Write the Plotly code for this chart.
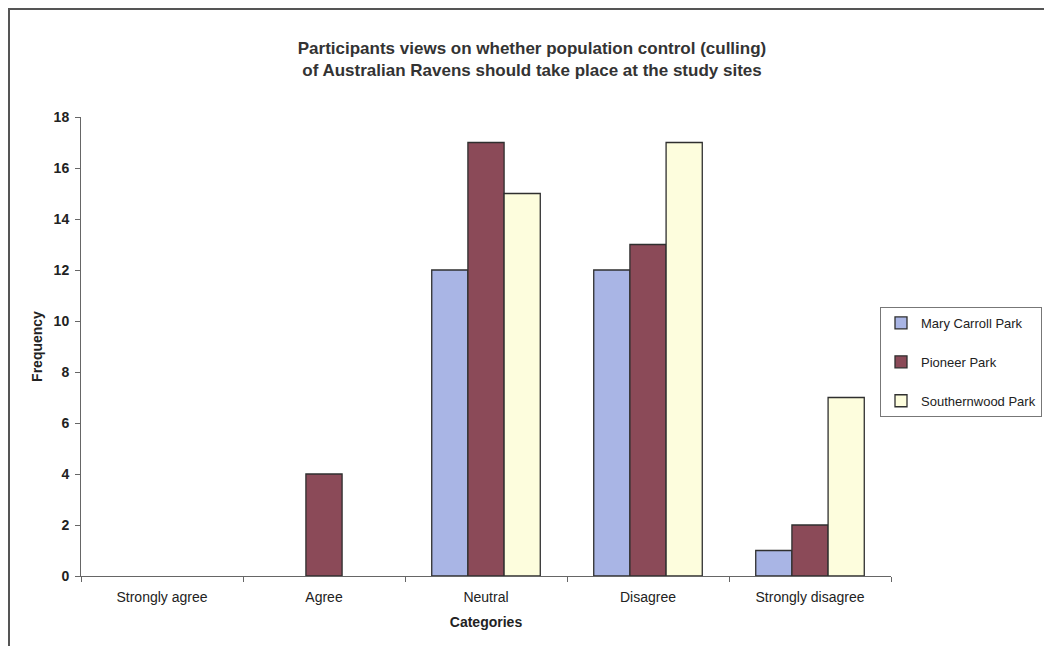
import plotly.graph_objects as go

categories = ["Strongly agree", "Agree", "Neutral", "Disagree", "Strongly disagree"]
mary_carroll = [0, 0, 12, 12, 1]
pioneer = [0, 4, 17, 13, 2]
southernwood = [0, 0, 15, 17, 7]
series_names = ["Mary Carroll Park", "Pioneer Park", "Southernwood Park"]
y_ticks = [0, 2, 4, 6, 8, 10, 12, 14, 16, 18]

colors = ["#a9b5e5", "#8b4a58", "#fdfddd"]
FONT = "Liberation Sans, Arial, sans-serif"

fig = go.Figure()
for name, vals, col in zip(series_names, [mary_carroll, pioneer, southernwood], colors):
    fig.add_trace(go.Bar(
        x=categories, y=[v if v else None for v in vals], name=name, legendgroup=name,
        marker=dict(color=col, line=dict(color="#2f2f2f", width=1.3)),
    ))

# page has an 8px body margin around the figure
OFF = 8
W, H = 1052 - OFF, 646 - OFF
L, T = 81 - OFF, 117 - OFF
pw, ph = 810, 459
R, B = W - L - pw, H - T - ph

def px_x(p):  # page pixel -> paper x
    return (p - 81) / pw

def px_y(p):  # page pixel -> paper y
    return (576 - p) / ph

fig.update_layout(
    width=W, height=H,
    margin=dict(l=L, r=R, t=T, b=B, autoexpand=False),
    paper_bgcolor="white", plot_bgcolor="white",
    font=dict(family=FONT, size=14, color="#222"),
    barmode="group", bargap=0.33, bargroupgap=0,
    title=dict(
        text="Participants views on whether population control (culling)<br>of Australian Ravens should take place at the study sites",
        xref="container", x=(532 - OFF) / W, xanchor="center",
        yref="container", y=1 - (54 - OFF) / H, yanchor="middle",
        font=dict(family=FONT, size=17, color="#333", weight="bold"),
    ),
    xaxis=dict(
        showline=True, linecolor="#666", linewidth=1,
        ticks="outside", ticklen=5, tickcolor="#666", tickson="boundaries",
        showgrid=False, tickfont=dict(size=14, color="#222"), ticklabelstandoff=8,
        title=dict(text="Categories", font=dict(size=14, weight="bold", color="#222"), standoff=13),
    ),
    yaxis=dict(
        range=[0, 18], tickvals=y_ticks, showline=True, linecolor="#666", linewidth=1,
        ticks="outside", ticklen=5, tickcolor="#666", showgrid=False, zeroline=False,
        tickfont=dict(size=14, color="#222", weight="bold"), ticklabelstandoff=3,
        title=dict(text="Frequency", font=dict(size=14, weight="bold", color="#222"), standoff=7),
    ),
    legend=dict(
        x=px_x(880), y=px_y(307), xanchor="left", yanchor="top",
        bordercolor="#777", borderwidth=1, bgcolor="white",
        font=dict(size=13, color="#222"), tracegroupgap=19,
        traceorder="grouped", itemclick=False,
    ),
    shapes=[dict(
        type="rect", xref="paper", yref="paper",
        x0=px_x(9), x1=px_x(1080), y0=px_y(9), y1=px_y(690),
        line=dict(color="#555", width=2), layer="above",
    )],
)

fig.write_html("out.html")
